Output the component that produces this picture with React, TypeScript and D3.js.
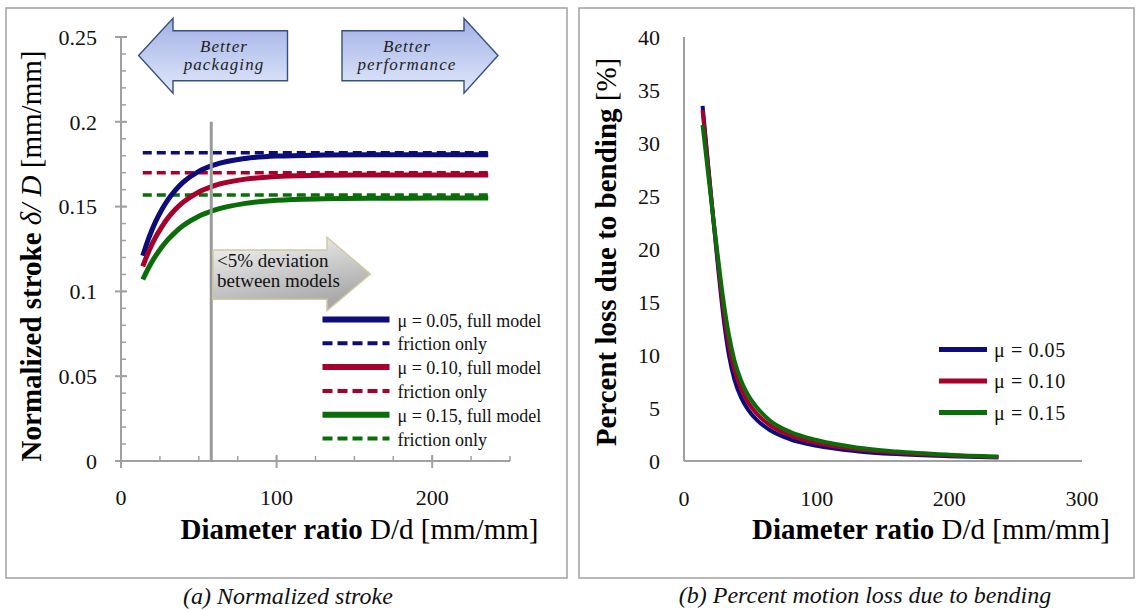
import React from 'react';
import * as d3 from 'd3';

// (a) normalized stroke vs diameter ratio
const strokeRatios = [14, 18, 22, 26, 30, 35, 40, 50, 60, 80, 100, 130, 160, 200, 236];
const strokeFull005 = [0.121, 0.1318, 0.1407, 0.1479, 0.1538, 0.1597, 0.1644, 0.1708, 0.1746, 0.1784, 0.1798, 0.1804, 0.1806, 0.1806, 0.1806];
const strokeFull010 = [0.1148, 0.124, 0.1316, 0.1378, 0.1431, 0.1484, 0.1526, 0.1586, 0.1624, 0.1662, 0.1677, 0.1685, 0.1686, 0.1687, 0.1687];
const strokeFull015 = [0.107, 0.1144, 0.1206, 0.1259, 0.1304, 0.135, 0.1388, 0.1443, 0.1479, 0.1519, 0.1537, 0.1546, 0.1549, 0.155, 0.155];
const frictionOnly = [0.1818, 0.1699, 0.1568];
const deviationRatio = 58;

// (b) percent loss due to bending
const lossRatios = [14, 18, 22, 26, 30, 34, 38, 43, 48, 55, 65, 80, 100, 130, 160, 200, 237];
const loss005 = [33.5, 28.2, 22.9, 17.9, 13.3, 9.9, 7.7, 6.0, 4.9, 3.85, 2.9, 2.05, 1.44, 0.93, 0.65, 0.45, 0.34];
const loss010 = [33.1, 28.0, 23.0, 18.3, 14.0, 10.8, 8.6, 6.8, 5.6, 4.45, 3.35, 2.4, 1.7, 1.1, 0.78, 0.53, 0.38];
const loss015 = [31.7, 27.3, 23.0, 18.8, 14.9, 11.8, 9.5, 7.6, 6.3, 5.05, 3.8, 2.75, 1.98, 1.28, 0.9, 0.6, 0.42];

const muLabels = ['0.05', '0.10', '0.15'];
const colors = ['#0c0c7a', '#a6002b', '#0a6d0a'];

const SERIF = '"Liberation Serif", "Times New Roman", serif';
const AXIS = '#a0a0a0';

const xA = d3.scaleLinear().domain([0, 250]).range([121, 510]);
const yA = d3.scaleLinear().domain([0, 0.25]).range([461, 37]);
const xB = d3.scaleLinear().domain([0, 300]).range([684, 1082]);
const yB = d3.scaleLinear().domain([0, 40]).range([461, 37]);

const App = () => {
  const lineA = d3.line<number>()
    .x((_, i) => xA(strokeRatios[i]))
    .y(d => yA(d))
    .curve(d3.curveMonotoneX);
  const lineB = d3.line<number>()
    .x((_, i) => xB(lossRatios[i]))
    .y(d => yB(d))
    .curve(d3.curveMonotoneX);

  const fullSeries = [strokeFull005, strokeFull010, strokeFull015];
  const lossSeries = [loss005, loss010, loss015];

  const yMajorA = d3.range(0, 0.2501, 0.05);
  const yMinorA = d3.range(0, 0.2501, 0.01);
  const xMajorA = [0, 100, 200];
  const xMinorA = d3.range(0, 251, 25);
  const yTicksB = d3.range(0, 41, 5);
  const xTicksB = [0, 100, 200, 300];

  const legendRows = [0, 1, 2, 3, 4, 5].map(i => 319.5 + i * 23.8);

  return (
    <svg width={1136} height={610} style={{ position: 'absolute', left: 0, top: 0, background: '#fff' }}
      fontFamily={SERIF}>
      <defs>
        <linearGradient id="blueArrow" x1="0" y1="0" x2="0" y2="1">
          <stop offset="0" stopColor="#a3b1e4" />
          <stop offset="0.55" stopColor="#c4cff2" />
          <stop offset="1" stopColor="#e2e8fa" />
        </linearGradient>
        <linearGradient id="grayArrow" x1="0" y1="0" x2="0.4" y2="1">
          <stop offset="0" stopColor="#f7f7f7" />
          <stop offset="1" stopColor="#a9a9a9" />
        </linearGradient>
      </defs>

      {/* panel frames */}
      <rect x={6} y={8} width={561} height={570} fill="none" stroke={AXIS} strokeWidth={1.5} />
      <rect x={579} y={8} width={555} height={570} fill="none" stroke={AXIS} strokeWidth={1.5} />

      {/* ---------- (a) ---------- */}
      <g stroke={AXIS} strokeWidth={2}>
        <line x1={xA(0)} x2={xA(0)} y1={yA(0.25)} y2={yA(0)} />
        <line x1={xA(0)} x2={xA(250)} y1={yA(0)} y2={yA(0)} />
        {yMinorA.map(v => <line key={'ym' + v} x1={xA(0)} x2={xA(0) + 5} y1={yA(v)} y2={yA(v)} strokeWidth={1.5} />)}
        {yMajorA.map(v => <line key={'yM' + v} x1={xA(0) - 6} x2={xA(0) + 6} y1={yA(v)} y2={yA(v)} />)}
        {xMinorA.map(v => <line key={'xm' + v} x1={xA(v)} x2={xA(v)} y1={yA(0)} y2={yA(0) - 5} strokeWidth={1.5} />)}
        {xMajorA.map(v => <line key={'xM' + v} x1={xA(v)} x2={xA(v)} y1={yA(0) - 6} y2={yA(0) + 7} />)}
      </g>
      <g fontSize={22} fill="#111">
        {yMajorA.map(v => (
          <text key={'yl' + v} x={97} y={yA(v)} dy="0.35em" textAnchor="end">{String(+v.toFixed(2))}</text>
        ))}
        {xMajorA.map(v => (
          <text key={'xl' + v} x={xA(v)} y={505} textAnchor="middle">{v}</text>
        ))}
      </g>

      {/* friction only (dashed) */}
      {frictionOnly.map((v, i) => (
        <line key={'fo' + i} x1={xA(strokeRatios[0])} x2={xA(strokeRatios[strokeRatios.length - 1])}
          y1={yA(v)} y2={yA(v)} stroke={colors[i]} strokeWidth={3.5} strokeDasharray="9,5" />
      ))}
      {/* full model */}
      {fullSeries.map((s, i) => (
        <path key={'fm' + i} d={lineA(s) || ''} fill="none" stroke={colors[i]} strokeWidth={5} />
      ))}

      {/* 5% deviation marker */}
      <line x1={xA(deviationRatio)} x2={xA(deviationRatio)} y1={yA(0.2)} y2={yA(0) + 1} stroke="#9a9a9a" strokeWidth={3} />

      {/* annotation arrows */}
      <path d="M138.6,55.5 L173,18.3 L173,30.7 L287.5,30.7 L287.5,80.7 L173,80.7 L173,93.3 Z"
        fill="url(#blueArrow)" stroke="#35507e" strokeWidth={1.4} />
      <path d="M342,30.7 L464,30.7 L464,18.3 L498,55.5 L464,93.3 L464,80.7 L342,80.7 Z"
        fill="url(#blueArrow)" stroke="#35507e" strokeWidth={1.4} />
      <g fontSize={17} fontStyle="italic" fill="#222" textAnchor="middle" letterSpacing={1.1}>
        <text x={224} y={52}>Better</text>
        <text x={224} y={70}>packaging</text>
        <text x={407} y={52}>Better</text>
        <text x={407} y={70}>performance</text>
      </g>
      <path d="M213,250 L327,250 L327,237.3 L370.4,274 L327,310.7 L327,299.3 L213,299.3 Z"
        fill="url(#grayArrow)" stroke="#d2c8a0" strokeWidth={1.4} />
      <g fontSize={19} fill="#111">
        <text x={217} y={267}>&lt;5% deviation</text>
        <text x={217} y={287}>between models</text>
      </g>

      {/* legend (a) */}
      {muLabels.map((m, i) => (
        <g key={'lgA' + i}>
          <line x1={322.5} x2={389.5} y1={legendRows[i * 2]} y2={legendRows[i * 2]} stroke={colors[i]} strokeWidth={6} />
          <line x1={322.5} x2={389.5} y1={legendRows[i * 2 + 1]} y2={legendRows[i * 2 + 1]} stroke={colors[i]}
            strokeWidth={4} strokeDasharray="10,5" />
          <text x={397.5} y={legendRows[i * 2] + 7} fontSize={18} fill="#111">{`\u03bc = ${m}, full model`}</text>
          <text x={397.5} y={legendRows[i * 2 + 1] + 7} fontSize={18} fill="#111">friction only</text>
        </g>
      ))}

      {/* axis titles (a) */}
      <text transform="translate(41,256) rotate(-90)" textAnchor="middle" fontSize={29} fill="#000">
        <tspan fontWeight="bold">Normalized stroke </tspan>
        <tspan fontStyle="italic">{'\u03b4/ D'}</tspan>
        <tspan>{' [mm/mm]'}</tspan>
      </text>
      <text x={359.5} y={539} textAnchor="middle" fontSize={29} fill="#000">
        <tspan fontWeight="bold">Diameter ratio </tspan>
        <tspan>D/d [mm/mm]</tspan>
      </text>
      <text x={288} y={604} textAnchor="middle" fontSize={24} fontStyle="italic" fill="#111">(a) Normalized stroke</text>

      {/* ---------- (b) ---------- */}
      <g stroke={AXIS} strokeWidth={2}>
        <line x1={xB(0)} x2={xB(0)} y1={yB(40)} y2={yB(0)} />
        <line x1={xB(0)} x2={xB(300)} y1={yB(0)} y2={yB(0)} />
      </g>
      <g fontSize={22} fill="#111">
        {yTicksB.map(v => (
          <text key={'ylb' + v} x={660} y={yB(v)} dy="0.35em" textAnchor="end">{v}</text>
        ))}
        {xTicksB.map(v => (
          <text key={'xlb' + v} x={xB(v)} y={506} textAnchor="middle">{v}</text>
        ))}
      </g>
      {lossSeries.map((s, i) => (
        <path key={'ls' + i} d={lineB(s) || ''} fill="none" stroke={colors[i]} strokeWidth={4} />
      ))}

      {/* legend (b) */}
      {muLabels.map((m, i) => {
        const y = 349.5 + i * 31.5;
        return (
          <g key={'lgB' + i}>
            <line x1={939} x2={987} y1={y} y2={y} stroke={colors[i]} strokeWidth={5} />
            <text x={994} y={y + 7} fontSize={20} letterSpacing={0.6} fill="#111">{`\u03bc = ${m}`}</text>
          </g>
        );
      })}

      <text transform="translate(616,252) rotate(-90)" textAnchor="middle" fontSize={29} fill="#000">
        <tspan fontWeight="bold">Percent loss due to bending</tspan>
        <tspan>{' [%]'}</tspan>
      </text>
      <text x={931} y={539} textAnchor="middle" fontSize={29} fill="#000">
        <tspan fontWeight="bold">Diameter ratio </tspan>
        <tspan>D/d [mm/mm]</tspan>
      </text>
      <text x={865} y={603} textAnchor="middle" fontSize={24} fontStyle="italic" fill="#111">(b) Percent motion loss due to bending</text>
    </svg>
  );
};

export default App;
